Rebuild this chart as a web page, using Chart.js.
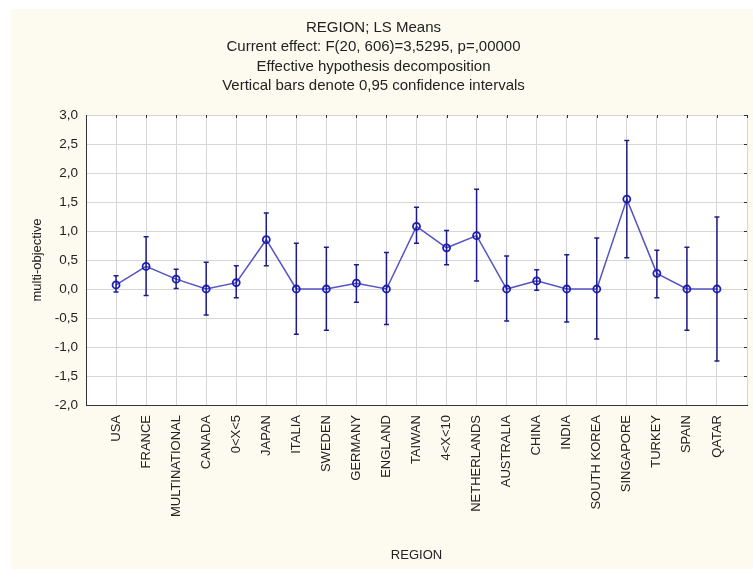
<!DOCTYPE html>
<html>
<head>
<meta charset="utf-8">
<script src="https://cdn.jsdelivr.net/npm/chart.js@4.4.0/dist/chart.umd.min.js"></script>
<style>
  html, body { margin: 0; padding: 0; background: #ffffff; }
  #wrap { width: 753px; height: 569px; }
</style>
</head>
<body>
<div id="wrap"><canvas id="chart" width="753" height="569"></canvas></div>
<script>
// data
const regions = ["USA", "FRANCE", "MULTINATIONAL", "CANADA", "0<X<5", "JAPAN", "ITALIA",
  "SWEDEN", "GERMANY", "ENGLAND", "TAIWAN", "4<X<10", "NETHERLANDS", "AUSTRALIA",
  "CHINA", "INDIA", "SOUTH KOREA", "SINGAPORE", "TURKEY", "SPAIN", "QATAR"];
const means = [0.07, 0.39, 0.17, 0.0, 0.11, 0.85, 0.0, 0.0, 0.10, 0.0, 1.08, 0.71,
  0.92, 0.0, 0.14, 0.0, 0.0, 1.55, 0.27, 0.0, 0.0];
const upper = [0.23, 0.90, 0.34, 0.46, 0.40, 1.31, 0.79, 0.72, 0.42, 0.63, 1.41, 1.01,
  1.72, 0.57, 0.33, 0.59, 0.88, 2.56, 0.67, 0.72, 1.24];
const lower = [-0.05, -0.11, 0.01, -0.45, -0.15, 0.40, -0.78, -0.71, -0.23, -0.61, 0.79, 0.42,
  0.14, -0.55, -0.02, -0.57, -0.86, 0.54, -0.15, -0.71, -1.24];
const titleLines = ["REGION; LS Means",
  "Current effect: F(20, 606)=3,5295, p=,00000",
  "Effective hypothesis decomposition",
  "Vertical bars denote 0,95 confidence intervals"];

const fmt = (v) => v.toFixed(1).replace(".", ",");
const FONT = "Liberation Sans, Arial, sans-serif";

const background = {
  id: "background",
  beforeDraw(chart) {
    const { ctx, chartArea: a } = chart;
    ctx.save();
    ctx.fillStyle = "#ffffff";
    ctx.fillRect(0, 0, chart.width, chart.height);
    ctx.fillStyle = "#fdfbf0";
    ctx.fillRect(11, 9, chart.width - 11, chart.height - 9);
    ctx.fillStyle = "#ffffff";
    ctx.fillRect(a.left, a.top, a.right - a.left, a.bottom - a.top);
    ctx.restore();
  },
};

const errorBars = {
  id: "errorBars",
  afterDatasetsDraw(chart) {
    const { ctx, scales, chartArea: a } = chart;
    ctx.save();
    // small inner ticks on the top and right borders
    ctx.strokeStyle = "#333333";
    ctx.lineWidth = 1;
    ctx.beginPath();
    scales.x.ticks.forEach((t) => {
      const x = Math.round(scales.x.getPixelForValue(t.value)) + 0.5;
      ctx.moveTo(x, a.top);
      ctx.lineTo(x, a.top + 3);
    });
    scales.y.ticks.forEach((t) => {
      const y = Math.round(scales.y.getPixelForValue(t.value)) + 0.5;
      ctx.moveTo(a.right, y);
      ctx.lineTo(a.right - 3, y);
    });
    ctx.stroke();

    ctx.strokeStyle = "#1c1c86";
    ctx.lineWidth = 1.5;
    regions.forEach((r, i) => {
      const x = scales.x.getPixelForValue(i);
      const yt = scales.y.getPixelForValue(upper[i]);
      const yb = scales.y.getPixelForValue(lower[i]);
      ctx.beginPath();
      ctx.moveTo(x, yt);
      ctx.lineTo(x, yb);
      ctx.moveTo(x - 2.5, yt);
      ctx.lineTo(x + 2.5, yt);
      ctx.moveTo(x - 2.5, yb);
      ctx.lineTo(x + 2.5, yb);
      ctx.stroke();
    });
    ctx.restore();
  },
};

new Chart(document.getElementById("chart"), {
  type: "line",
  data: {
    datasets: [{
      data: means.map((v, i) => ({ x: i, y: v })),
      borderColor: "#5454c4",
      borderWidth: 1.5,
      pointRadius: 3.5,
      pointBorderWidth: 1.8,
      pointBorderColor: "#1e1ec0",
      pointBackgroundColor: "rgba(255,255,255,0)",
      tension: 0,
    }],
  },
  options: {
    responsive: false,
    animation: false,
    layout: { padding: { left: 0, right: 6, top: 0, bottom: 4 } },
    plugins: {
      legend: { display: false },
      tooltip: { enabled: false },
      title: {
        display: true,
        text: titleLines,
        color: "#222222",
        font: { family: FONT, size: 15, weight: "normal", lineHeight: 1.3 },
        padding: { top: 18, bottom: 19 },
      },
    },
    scales: {
      x: {
        type: "linear",
        min: -1,
        max: 21,
        afterFit: (s) => { s.height = 160; s.paddingLeft = 0; s.paddingRight = 0; },
        ticks: {
          stepSize: 1,
          autoSkip: false,
          maxRotation: 90,
          minRotation: 90,
          padding: 10,
          color: "#222222",
          font: { family: FONT, size: 13 },
          callback: (v) => regions[v] || "",
        },
        grid: { color: "#d6d6d6", drawTicks: false },
        border: { color: "#333333", width: 1 },
        title: {
          display: true,
          text: "REGION",
          color: "#222222",
          font: { family: FONT, size: 13 },
          padding: { top: 0, bottom: 2 },
        },
      },
      y: {
        min: -2,
        max: 3,
        afterFit: (s) => { s.width = 86; },
        ticks: {
          stepSize: 0.5,
          padding: 8,
          color: "#222222",
          font: { family: FONT, size: 13.5 },
          callback: (v) => fmt(v),
        },
        grid: { color: "#d6d6d6", drawTicks: false },
        border: { color: "#333333", width: 1 },
        title: {
          display: true,
          text: "multi-objective",
          color: "#222222",
          font: { family: FONT, size: 13 },
          padding: { top: 30, bottom: 0 },
        },
      },
    },
  },
  plugins: [background, errorBars],
});
</script>
</body>
</html>
